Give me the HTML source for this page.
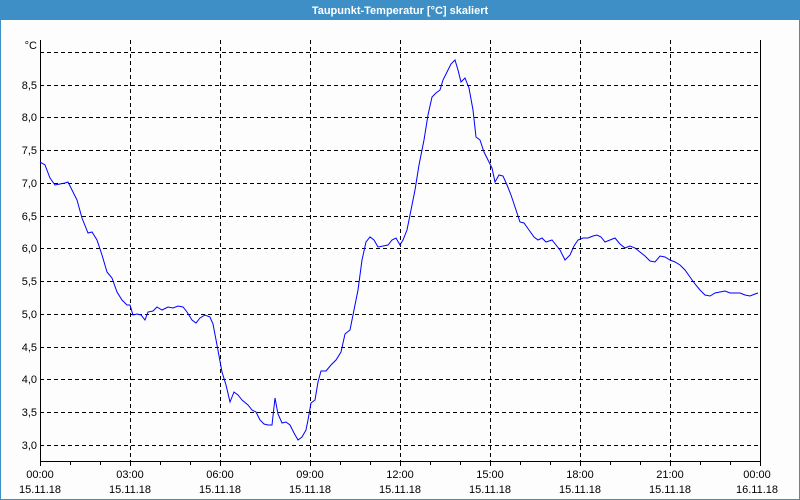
<!DOCTYPE html>
<html><head><meta charset="utf-8"><style>
body{margin:0;background:#fff}
svg{display:block;font-family:"Liberation Sans",sans-serif;font-size:11px}
</style></head><body>
<svg width="800" height="500" viewBox="0 0 800 500">
<rect x="0" y="0" width="800" height="500" fill="#fdfdfd"/>
<rect x="0.5" y="0.5" width="799" height="499" fill="none" stroke="#3d8fc6"/>
<rect x="0" y="0" width="800" height="20" fill="#3d8fc6"/>
<text x="400" y="14" text-anchor="middle" fill="#fff" font-weight="bold" font-size="11">Taupunkt-Temperatur [°C] skaliert</text>
<g stroke="#000" stroke-dasharray="4,3" stroke-width="1">
<path d="M40 52.5H760M40 85.5H760M40 117.5H760M40 150.5H760M40 183.5H760M40 216.5H760M40 248.5H760M40 281.5H760M40 314.5H760M40 347.5H760M40 379.5H760M40 412.5H760M40 445.5H760"/>
<path d="M130.5 40V461M220.5 40V461M310.5 40V461M400.5 40V461M490.5 40V461M580.5 40V461M670.5 40V461"/>
</g>
<path d="M40.5 40V461.5H760.5V40" fill="none" stroke="#000"/>
<g stroke="#000"><path d="M40.5 461V466M70.5 461V465M100.5 461V465M130.5 461V466M160.5 461V465M190.5 461V465M220.5 461V466M250.5 461V465M280.5 461V465M310.5 461V466M340.5 461V465M370.5 461V465M400.5 461V466M430.5 461V465M460.5 461V465M490.5 461V466M520.5 461V465M550.5 461V465M580.5 461V466M610.5 461V465M640.5 461V465M670.5 461V466M700.5 461V465M730.5 461V465M760.5 461V466"/></g>
<g text-anchor="end" fill="#000">
<text x="37" y="49">°C</text>
<text x="37" y="89">8,5</text><text x="37" y="121">8,0</text><text x="37" y="154">7,5</text><text x="37" y="187">7,0</text><text x="37" y="220">6,5</text><text x="37" y="252">6,0</text><text x="37" y="285">5,5</text><text x="37" y="318">5,0</text><text x="37" y="351">4,5</text><text x="37" y="383">4,0</text><text x="37" y="416">3,5</text><text x="37" y="449">3,0</text>
</g>
<g text-anchor="middle" fill="#000">
<text x="40" y="478">00:00</text><text x="40" y="493">15.11.18</text>
<text x="130" y="478">03:00</text><text x="130" y="493">15.11.18</text>
<text x="220" y="478">06:00</text><text x="220" y="493">15.11.18</text>
<text x="310" y="478">09:00</text><text x="310" y="493">15.11.18</text>
<text x="400" y="478">12:00</text><text x="400" y="493">15.11.18</text>
<text x="490" y="478">15:00</text><text x="490" y="493">15.11.18</text>
<text x="580" y="478">18:00</text><text x="580" y="493">15.11.18</text>
<text x="670" y="478">21:00</text><text x="670" y="493">15.11.18</text>
<text x="757" y="478">00:00</text><text x="757" y="493">16.11.18</text>
</g>
<polyline fill="none" stroke="#0000ff" stroke-width="1" points="40,162 45,165 50,178 55,185 60,184 65,183 68,182 72,190 77,200 82,218 88,233 92,232 97,240 102,255 107,272 112,278 117,292 122,300 127,305 130,305 133,315 137,314 141,315 145,320 148,312 153,311 157,307 162,310 168,307 173,308 178,306 183,307 187,312 192,320 196,323 200,318 205,315 210,317 213,324 217,345 222,372 226,385 230,402 234,392 238,395 242,400 248,405 252,410 256,412 260,420 264,424 268,425 272,425 275,398 278,414 282,423 286,422 290,425 294,433 298,440 302,437 306,430 308,420 311,403 315,400 318,382 321,371 326,371 331,365 336,360 341,352 345,334 350,330 354,310 358,290 362,260 366,242 370,237 374,240 378,247 383,246 388,245 392,240 396,238 400,245 403,240 407,230 411,210 415,190 419,165 424,140 428,115 432,97 436,93 440,90 443,80 447,72 451,64 455,60 458,70 461,82 465,78 469,88 473,110 476,137 480,140 484,152 488,160 492,168 495,182 499,175 503,176 507,185 511,195 516,210 520,222 524,223 529,230 534,237 538,240 542,238 546,242 552,240 556,245 560,250 565,260 570,255 574,246 578,240 583,238 588,238 593,236 597,235 601,237 605,242 610,240 615,238 620,244 625,248 630,246 635,248 640,252 645,256 650,261 655,262 660,256 665,257 670,260 675,262 680,265 685,270 690,277 695,284 700,290 705,295 710,296 715,293 720,292 725,291 730,293 735,293 740,293 745,295 750,296 755,294 758,293"/>
</svg>
</body></html>
